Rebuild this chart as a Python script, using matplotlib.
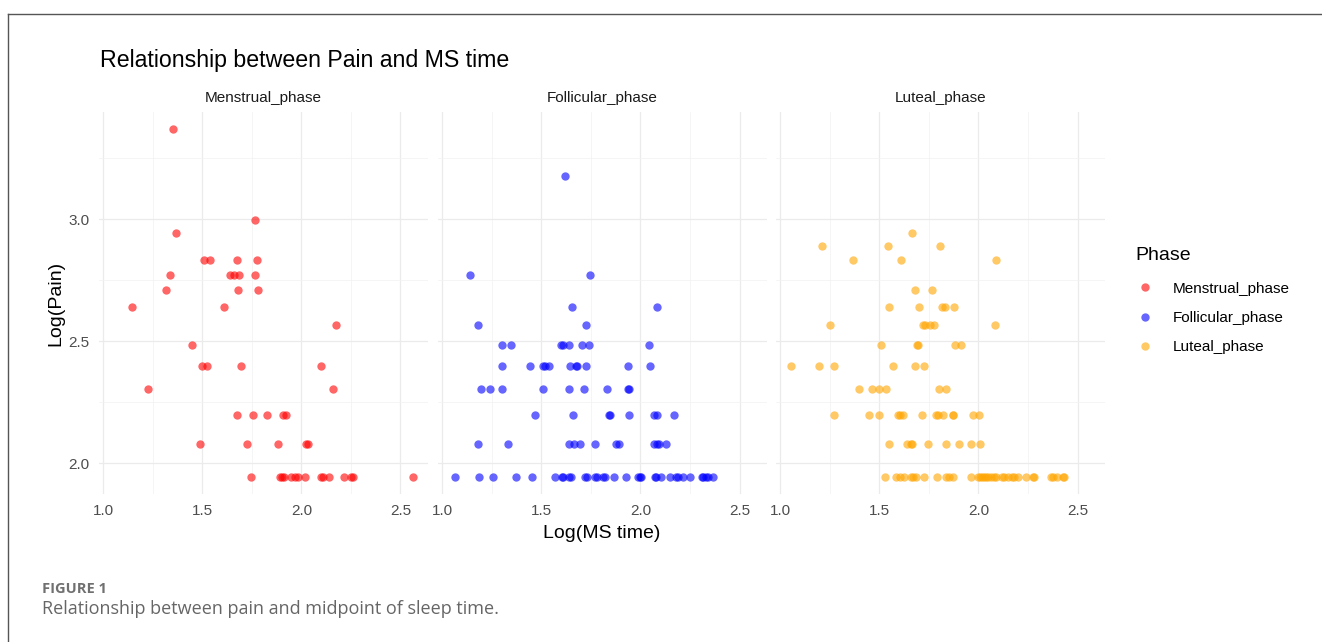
import matplotlib
matplotlib.use("Agg")
import matplotlib.pyplot as plt
from matplotlib.lines import Line2D

plt.rcParams['font.family'] = ['Liberation Sans', 'DejaVu Sans']

phases = ["Menstrual_phase", "Follicular_phase", "Luteal_phase"]
colors = ["#ff0000", "#0000ff", "#ffa500"]

# Log(MS time) and Log(Pain) values
menstrual_x = [1.353, 1.767, 1.369,
               1.509, 1.537, 1.673, 1.774,
               1.339, 1.638, 1.658, 1.685, 1.767,
               1.316, 1.680, 1.783,
               1.146, 1.610,
               2.177,
               1.448,
               1.499, 1.524, 1.695, 2.100,
               1.225, 2.159,
               1.677, 1.754, 1.825, 1.905, 1.924,
               1.490, 1.725, 1.882, 2.021, 2.034,
               1.746, 1.890, 1.903, 1.912, 1.950, 1.966, 1.982, 2.019, 2.097, 2.108,
               2.139, 2.214, 2.251, 2.259, 2.562]
menstrual_y = [3.367, 2.996, 2.944,
               2.833, 2.833, 2.833, 2.833,
               2.773, 2.773, 2.773, 2.773, 2.773,
               2.708, 2.708, 2.708,
               2.639, 2.639,
               2.565,
               2.485,
               2.398, 2.398, 2.398, 2.398,
               2.303, 2.303,
               2.197, 2.197, 2.197, 2.197, 2.197,
               2.079, 2.079, 2.079, 2.079, 2.079,
               1.946, 1.946, 1.946, 1.946, 1.946, 1.946, 1.946, 1.946, 1.946, 1.946,
               1.946, 1.946, 1.946, 1.946, 1.946]

follicular_x = [1.617,
                1.140, 1.744,
                1.655, 2.083,
                1.180, 1.725,
                1.302, 1.344, 1.601, 1.609, 1.638, 1.707, 1.741, 2.044,
                1.302, 1.440, 1.506, 1.516, 1.536, 1.643, 1.675, 1.682, 1.724, 1.935, 2.046,
                1.197, 1.238, 1.302, 1.509, 1.639, 1.717, 1.832, 1.938, 1.941,
                1.466, 1.658, 1.840, 1.845, 1.941, 2.066, 2.083, 2.167,
                1.180, 1.332, 1.641, 1.666, 1.697, 1.768, 1.876, 1.892, 2.069, 2.081, 2.091, 2.127,
                1.066, 1.187, 1.256, 1.373, 1.450, 1.567, 1.602, 1.609, 1.641, 1.648,
                1.722, 1.729, 1.771, 1.778, 1.811, 1.820, 1.865, 1.929, 1.987, 1.997,
                2.004, 2.071, 2.078, 2.105, 2.149, 2.177, 2.189, 2.216, 2.250, 2.309,
                2.317, 2.329, 2.343, 2.366]
follicular_y = [3.178,
                2.773, 2.773,
                2.639, 2.639,
                2.565, 2.565,
                2.485, 2.485, 2.485, 2.485, 2.485, 2.485, 2.485, 2.485,
                2.398, 2.398, 2.398, 2.398, 2.398, 2.398, 2.398, 2.398, 2.398, 2.398, 2.398,
                2.303, 2.303, 2.303, 2.303, 2.303, 2.303, 2.303, 2.303, 2.303,
                2.197, 2.197, 2.197, 2.197, 2.197, 2.197, 2.197, 2.197,
                2.079, 2.079, 2.079, 2.079, 2.079, 2.079, 2.079, 2.079, 2.079, 2.079, 2.079, 2.079,
                1.946, 1.946, 1.946, 1.946, 1.946, 1.946, 1.946, 1.946, 1.946, 1.946,
                1.946, 1.946, 1.946, 1.946, 1.946, 1.946, 1.946, 1.946, 1.946, 1.946,
                1.946, 1.946, 1.946, 1.946, 1.946, 1.946, 1.946, 1.946, 1.946, 1.946,
                1.946, 1.946, 1.946, 1.946]

luteal_x = [1.666,
            1.209, 1.544, 1.806,
            1.365, 1.608, 2.090,
            1.682, 1.764,
            1.547, 1.699, 1.814, 1.829, 1.877,
            1.253, 1.720, 1.728, 1.753, 1.777, 2.083,
            1.508, 1.688, 1.694, 1.883, 1.912,
            1.054, 1.193, 1.269, 1.571, 1.679, 1.723,
            1.397, 1.463, 1.498, 1.535, 1.802, 1.838,
            1.269, 1.448, 1.497, 1.596, 1.606, 1.620, 1.715, 1.787, 1.794, 1.819,
            1.870, 1.873, 1.973, 2.003,
            1.547, 1.640, 1.657, 1.666, 1.745, 1.838, 1.902, 1.963, 2.010,
            1.527, 1.583, 1.603, 1.625, 1.657, 1.671, 1.684, 1.723, 1.792, 1.834,
            1.851, 1.872, 1.963, 1.998, 2.008, 2.019, 2.029, 2.039, 2.049, 2.063,
            2.076, 2.090, 2.117, 2.127, 2.150, 2.167, 2.181, 2.198, 2.240, 2.274,
            2.279, 2.367, 2.378, 2.395, 2.427, 2.434]
luteal_y = [2.944,
            2.890, 2.890, 2.890,
            2.833, 2.833, 2.833,
            2.708, 2.708,
            2.639, 2.639, 2.639, 2.639, 2.639,
            2.565, 2.565, 2.565, 2.565, 2.565, 2.565,
            2.485, 2.485, 2.485, 2.485, 2.485,
            2.398, 2.398, 2.398, 2.398, 2.398, 2.398,
            2.303, 2.303, 2.303, 2.303, 2.303, 2.303,
            2.197, 2.197, 2.197, 2.197, 2.197, 2.197, 2.197, 2.197, 2.197, 2.197,
            2.197, 2.197, 2.197, 2.197,
            2.079, 2.079, 2.079, 2.079, 2.079, 2.079, 2.079, 2.079, 2.079,
            1.946, 1.946, 1.946, 1.946, 1.946, 1.946, 1.946, 1.946, 1.946, 1.946,
            1.946, 1.946, 1.946, 1.946, 1.946, 1.946, 1.946, 1.946, 1.946, 1.946,
            1.946, 1.946, 1.946, 1.946, 1.946, 1.946, 1.946, 1.946, 1.946, 1.946,
            1.946, 1.946, 1.946, 1.946, 1.946, 1.946]

xs = [menstrual_x, follicular_x, luteal_x]
ys = [menstrual_y, follicular_y, luteal_y]

x_ticks = [1.0, 1.5, 2.0, 2.5]
x_tick_labels = ["1.0", "1.5", "2.0", "2.5"]
y_ticks = [2.0, 2.5, 3.0]
y_tick_labels = ["2.0", "2.5", "3.0"]

W, H = 1322, 642
fig = plt.figure(figsize=(W / 100, H / 100), dpi=100)

lefts = [99.1, 438.2, 776.2]
pw = 328.5
top_px, bot_px = 112, 494
grid_col = "#ebebeb"

axes = []
for i, (name, col) in enumerate(zip(phases, colors)):
    ax = fig.add_axes([lefts[i] / W, 1 - bot_px / H, pw / W, (bot_px - top_px) / H])
    ax.scatter(xs[i], ys[i], s=36, color=col, alpha=0.6, linewidths=0, zorder=3)
    ax.set_xlim(0.979, 2.637)
    ax.set_ylim(1.875, 3.438)
    ax.set_xticks(x_ticks)
    ax.set_xticklabels(x_tick_labels)
    ax.set_yticks(y_ticks)
    ax.set_yticklabels(y_tick_labels if i == 0 else [])
    ax.set_xticks([1.25, 1.75, 2.25], minor=True)
    ax.set_yticks([2.25, 2.75, 3.25], minor=True)
    ax.grid(True, which="major", color=grid_col, linewidth=0.9, zorder=0)
    ax.grid(True, which="minor", color="#f2f2f2", linewidth=0.5, zorder=0)
    ax.set_axisbelow(True)
    for s in ax.spines.values():
        s.set_visible(False)
    ax.tick_params(which="both", length=0, labelsize=11, labelcolor="#4d4d4d", pad=7)
    ax.set_title(name, fontsize=11, color="#1a1a1a", pad=7)
    axes.append(ax)

axes[0].set_ylabel("Log(Pain)", fontsize=14, color="black", labelpad=3)
fig.text(602 / W, 1 - 533 / H, "Log(MS time)", fontsize=14, ha="center", va="center")
fig.text(100 / W, 1 - 60 / H, "Relationship between Pain and MS time", fontsize=16.7,
         ha="left", va="center")

# legend
handles = [Line2D([], [], marker="o", linestyle="", color=c, alpha=0.6, markersize=6,
                  markeredgewidth=0) for c in colors]
leg = fig.legend(handles, phases, title="Phase", loc="upper left",
                 bbox_to_anchor=(1128 / W, 1 - 239 / H), frameon=False, fontsize=11,
                 title_fontsize=14, alignment="left", handletextpad=1.2,
                 labelspacing=1.0, borderpad=0, handlelength=1.2)
leg._legend_box.sep = 13

# outer frame lines
fig.add_artist(Line2D([8 / W, 1], [1 - 14 / H, 1 - 14 / H], transform=fig.transFigure,
                      color="#555555", linewidth=1))
fig.add_artist(Line2D([8 / W, 8 / W], [0, 1 - 14 / H], transform=fig.transFigure,
                      color="#555555", linewidth=1))

# caption
fig.text(42 / W, 1 - 589 / H, "FIGURE 1", fontsize=10.5, fontweight="bold", color="#707070",
         family=["Open Sans", "DejaVu Sans"], ha="left", va="center")
fig.text(42 / W, 1 - 609 / H, "Relationship between pain and midpoint of sleep time.",
         fontsize=13, color="#666666", family=["Open Sans", "DejaVu Sans"],
         ha="left", va="center")

fig.savefig("out.png", dpi=100)
